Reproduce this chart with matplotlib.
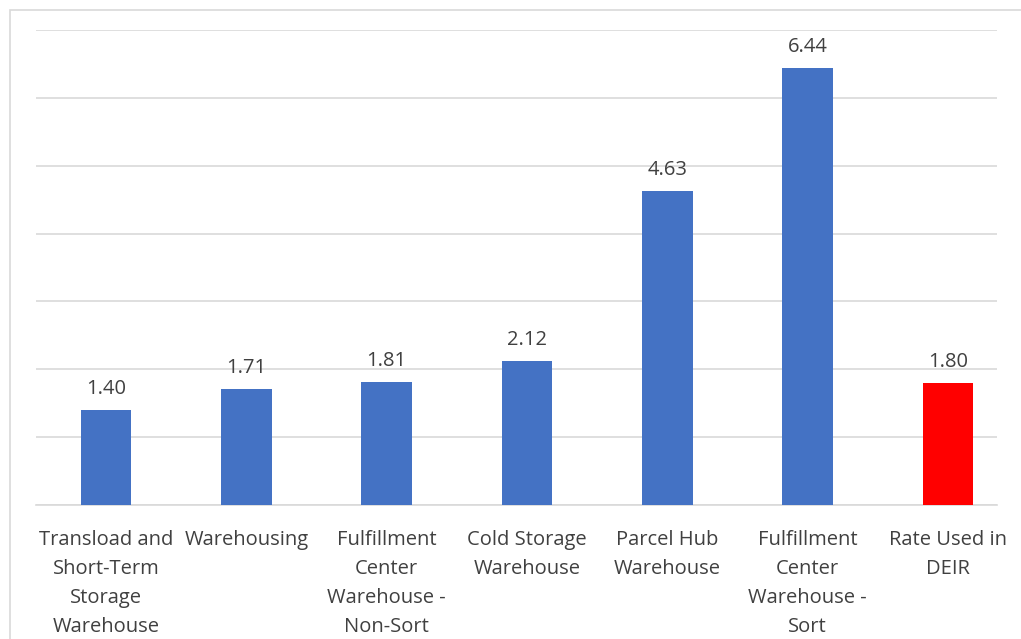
from matplotlib import pyplot as plt
from matplotlib.patches import Rectangle

categories = ['Transload and\nShort-Term\nStorage\nWarehouse', 'Warehousing',
              'Fulfillment\nCenter\nWarehouse -\nNon-Sort', 'Cold Storage\nWarehouse',
              'Parcel Hub\nWarehouse', 'Fulfillment\nCenter\nWarehouse -\nSort',
              'Rate Used in\nDEIR']
values = [1.40, 1.71, 1.81, 2.12, 4.63, 6.44, 1.80]
bar_colors = ['#4472c4'] * 6 + ['#ff0000']

plt.rcParams['font.family'] = ['Open Sans', 'DejaVu Sans']

fig = plt.figure(figsize=(10.21, 6.39), dpi=100)
ax = fig.add_axes([36 / 1021, 1 - 505 / 639, (997 - 36) / 1021, (505 - 30) / 639])

# light frame around the chart area
fig.patches.append(Rectangle((10 / 1021, -0.1), 1.2, 1 - 10 / 639 + 0.1,
                             transform=fig.transFigure, fill=False,
                             edgecolor='#d9d9d9', linewidth=1.2))

xpos = range(len(values))
bars = ax.bar(xpos, values, width=0.36, color=bar_colors, zorder=3)

for x, v in zip(xpos, values):
    ax.annotate(f'{v:.2f}', (x, v), xytext=(0, 8), textcoords='offset points',
                ha='center', va='bottom', fontsize=14.5, color='#404040')

ax.set_xlim(-0.5, 6.35)
ax.set_ylim(0, 7)
ax.set_yticks(range(0, 8))
ax.yaxis.grid(True, color='#d9d9d9', linewidth=1.2, zorder=0)
ax.tick_params(axis='y', length=0, labelleft=False)
ax.set_xticks(list(xpos))
ax.set_xticklabels(categories, fontsize=14.5, color='#404040', linespacing=1.6)
ax.tick_params(axis='x', length=0, pad=18)

for side in ['top', 'right', 'left']:
    ax.spines[side].set_visible(False)
ax.spines['bottom'].set_color('#d9d9d9')
ax.spines['bottom'].set_linewidth(1.2)

plt.savefig('out.png', dpi=100)
